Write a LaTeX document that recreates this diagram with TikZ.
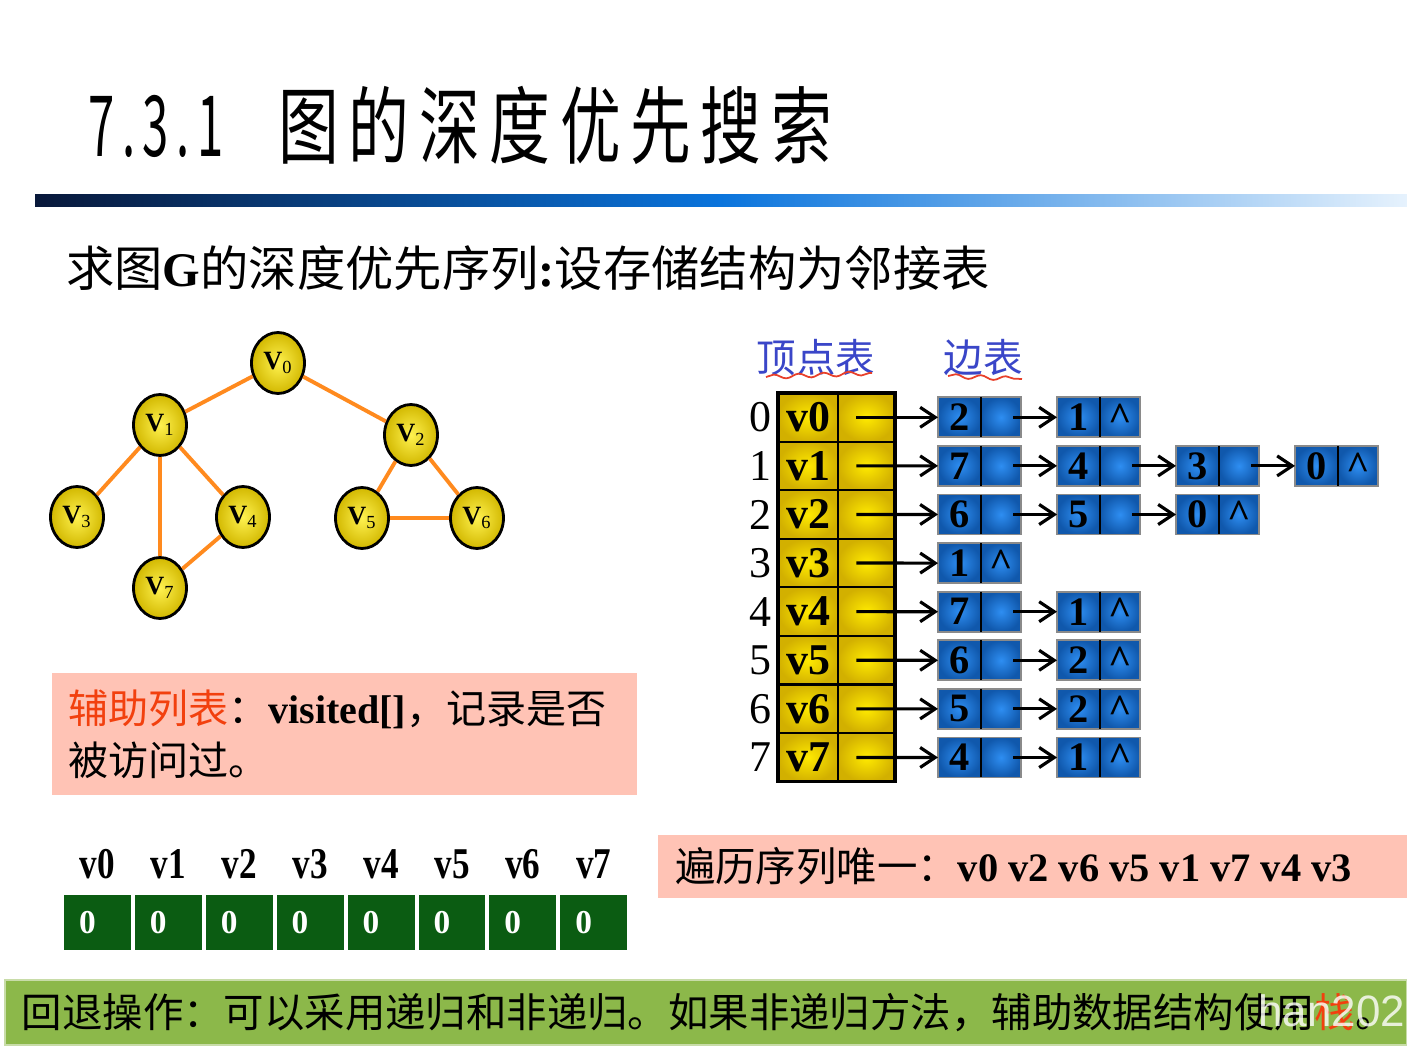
\documentclass[tikz,border=0pt]{standalone}
\usepackage{fontspec}
\setmainfont{Liberation Serif}
\setsansfont{Liberation Sans}
\newfontfamily\cjk{Noto Sans CJK SC}
\newfontfamily\titlefont[LetterSpace=16]{Noto Sans CJK SC}
\usepackage{tikz}
\usetikzlibrary{arrows.meta,positioning,shapes,calc,decorations.pathmorphing}
\definecolor{navyblue}{HTML}{08183A}
\definecolor{midblue}{HTML}{0A74DC}
\definecolor{paleblue}{HTML}{E6F2FD}
\definecolor{vtxlight}{HTML}{FFF250}
\definecolor{vtxdark}{HTML}{D2B800}
\definecolor{edgeorange}{HTML}{FF8A1E}
\definecolor{hdrblue}{HTML}{3A46C8}
\definecolor{scribblered}{HTML}{E8402A}
\definecolor{headlight}{HTML}{FFEA00}
\definecolor{headdark}{HTML}{D2B000}
\definecolor{arclight}{HTML}{2E8EF2}
\definecolor{arcdark}{HTML}{1058AC}
\definecolor{arcborder}{HTML}{8A8A8A}
\definecolor{visgreen}{HTML}{0B5C12}
\definecolor{notepink}{HTML}{FFC3B5}
\definecolor{notered}{HTML}{F2400E}
\definecolor{bargreen}{HTML}{8CB84A}
\definecolor{barline}{HTML}{C8DCA8}
\tikzset{
    vtx/.style={ellipse, draw, line width=1.6pt, inner color=vtxlight, outer color=vtxdark, minimum width=1.06cm, minimum height=1.22cm, inner sep=0pt, font=\bfseries\fontsize{15}{15}\selectfont},
    edgeline/.style={draw=edgeorange, line width=2.2pt},
    hdr/.style={text=hdrblue, inner sep=0pt, font=\cjk\fontsize{22.5}{22.5}\selectfont},
    scribble/.style={draw=scribblered, line width=1pt, decorate, decoration={snake, amplitude=1.2pt, segment length=0.5cm}},
    headcell/.style={draw, line width=1.2pt, inner color=headlight, outer color=headdark, minimum width=1.2cm, minimum height=0.972cm, inner sep=0pt, outer sep=0pt, font=\bfseries\fontsize{25}{25}\selectfont},
    ptrcell/.style={headcell, minimum width=1.14cm},
    idx/.style={inner sep=0pt, font=\fontsize{25}{25}\selectfont},
    arcdata/.style={draw=arcborder, line width=1pt, inner color=arclight, outer color=arcdark, minimum width=0.86cm, minimum height=0.8cm, inner sep=0pt, outer sep=0pt, font=\bfseries\fontsize{23}{23}\selectfont},
    arcptr/.style={arcdata, minimum width=0.8cm},
    divider/.style={line width=1.5pt},
    link/.style={-{Straight Barb[length=3mm, width=4mm]}, line width=1.8pt},
    vislabel/.style={inner sep=0pt, font=\bfseries\fontsize{25}{25}\selectfont},
    visbox/.style={fill=visgreen, text=white, minimum height=1.1cm, text width=0.74cm, inner xsep=0.3cm, align=left, font=\bfseries\fontsize{19}{19}\selectfont},
    note/.style={fill=notepink, inner sep=0pt},
    body/.style={inner sep=0pt, font=\cjk\fontsize{23}{23}\selectfont},
    bar/.style={fill=bargreen, draw=barline, line width=0.8pt, minimum width=28.04cm, minimum height=1.3cm, inner sep=0pt},
    watermark/.style={text=white, opacity=0.8, inner sep=0pt, font=\sffamily\fontsize{25}{25}\selectfont}
}

\begin{document}
\begin{tikzpicture}[x=0.02cm, y=-0.02cm, node distance=0pt]
    \fill[white] (0,0) rectangle (1407,1050);
    \useasboundingbox (0,0) rectangle (1407,1050);

    % title and rule
    \node[anchor=west, inner sep=0pt, font=\titlefont\fontsize{48}{48}\selectfont] (secnum) at (88,126) {\scalebox{0.56}[1]{7.3.1}};
    \node[anchor=west, inner sep=0pt, font=\titlefont\fontsize{48}{48}\selectfont] (title) at (278,125) {\scalebox{0.72}[1]{图的深度优先搜索}};
    \shade[left color=navyblue, right color=paleblue, middle color=midblue] (35,195) rectangle (1407,207);
    \node[anchor=west, inner sep=0pt, font=\cjk\fontsize{27.5}{27.5}\selectfont] (task) at (66,268) {求图{\rmfamily\bfseries G}的深度优先序列{\rmfamily\bfseries :}设存储结构为邻接表};

    % graph G
    \foreach \n/\x/\y in {0/278/363, 1/160/425, 2/411/435, 3/77/517, 4/243/517, 5/362/518, 6/477/518, 7/160/588}
        \node[vtx] (v\n) at (\x,\y) {V\textsubscript{\mdseries\n}};
    \foreach \a/\b in {0/1, 0/2, 1/3, 1/7, 1/4, 4/7, 2/5, 2/6, 5/6}
        \draw[edgeline] (v\a) -- (v\b);

    % adjacency list
    \node[hdr] (vhdr) at (816,358) {顶点表};
    \node[hdr] (ehdr) at (983,358) {边表};
    \draw[scribble] (766,377) -- (872,373);
    \draw[scribble] (948,376) -- (1022,379);

    \node[headcell] (hv0) at (808,417.3) {v0};
    \foreach \i [remember=\i as \j (initially 0)] in {1,...,7}
        \node[headcell, below=of hv\j] (hv\i) {v\i};
    \foreach \i in {0,...,7} {
        \node[ptrcell, right=of hv\i] (hp\i) {};
        \node[idx, left=0.12cm of hv\i] (n\i) {\i};
    }
    \draw[line width=2pt] (hv0.north west) rectangle (hp7.south east);

    \foreach \r/\lst in {0/{2/,1/\textasciicircum}, 1/{7/,4/,3/,0/\textasciicircum}, 2/{6/,5/,0/\textasciicircum}, 3/{1/\textasciicircum}, 4/{7/,1/\textasciicircum}, 5/{6/,2/\textasciicircum}, 6/{5/,2/\textasciicircum}, 7/{4/,1/\textasciicircum}} {
        \foreach \d/\p [count=\c, remember=\c as \pc (initially 0)] in \lst {
            \node[arcdata, anchor=west] (a\r\c) at (938+119*\c-119, 417.3+48.6*\r) {\d};
            \node[arcptr, right=of a\r\c] (p\r\c) {\p};
            \draw[divider] (a\r\c.north east) -- (a\r\c.south east);
            \ifnum\c=1
                \draw[link, shorten <=-0.2cm] (hp\r.center) -- (a\r\c);
            \else
                \draw[link, shorten <=0.25cm] (p\r\pc.center) -- (a\r\c);
            \fi
        }
    }

    % visited[]
    \node[note, text width=11.06cm, inner xsep=0.32cm, minimum height=2.44cm, align=left, font=\cjk\fontsize{22.8}{29.6}\selectfont] (aux) at (344.5,734) {{\color{notered}辅助列表}：{\rmfamily\bfseries visited[]}，记录是否\\被访问过。};
    \foreach \i in {0,...,7} {
        \node[visbox] (b\i) at (97.5+70.9*\i,922.5) {0};
        \node[vislabel, above=0.3cm of b\i] (l\i) {\scalebox{0.8}[1]{v\i}};
    }

    % result and note
    \node[note, minimum width=14.98cm, minimum height=1.26cm] (seq) at (1032.5,866.5) {};
    \node[body, right=0.34cm of seq.west] (seqtxt) {遍历序列唯一：{\rmfamily\bfseries v0 v2 v6 v5 v1 v7 v4 v3}};
    \node[bar] (bar) at (706,1012.5) {};
    \node[body, right=0.34cm of bar.west] (bartxt) {回退操作：可以采用递归和非递归。如果非递归方法，辅助数据结构使用{\color{notered}栈}。};
    \node[watermark, anchor=west] (wm) at (1258,1011) {han202};
\end{tikzpicture}
\end{document}
